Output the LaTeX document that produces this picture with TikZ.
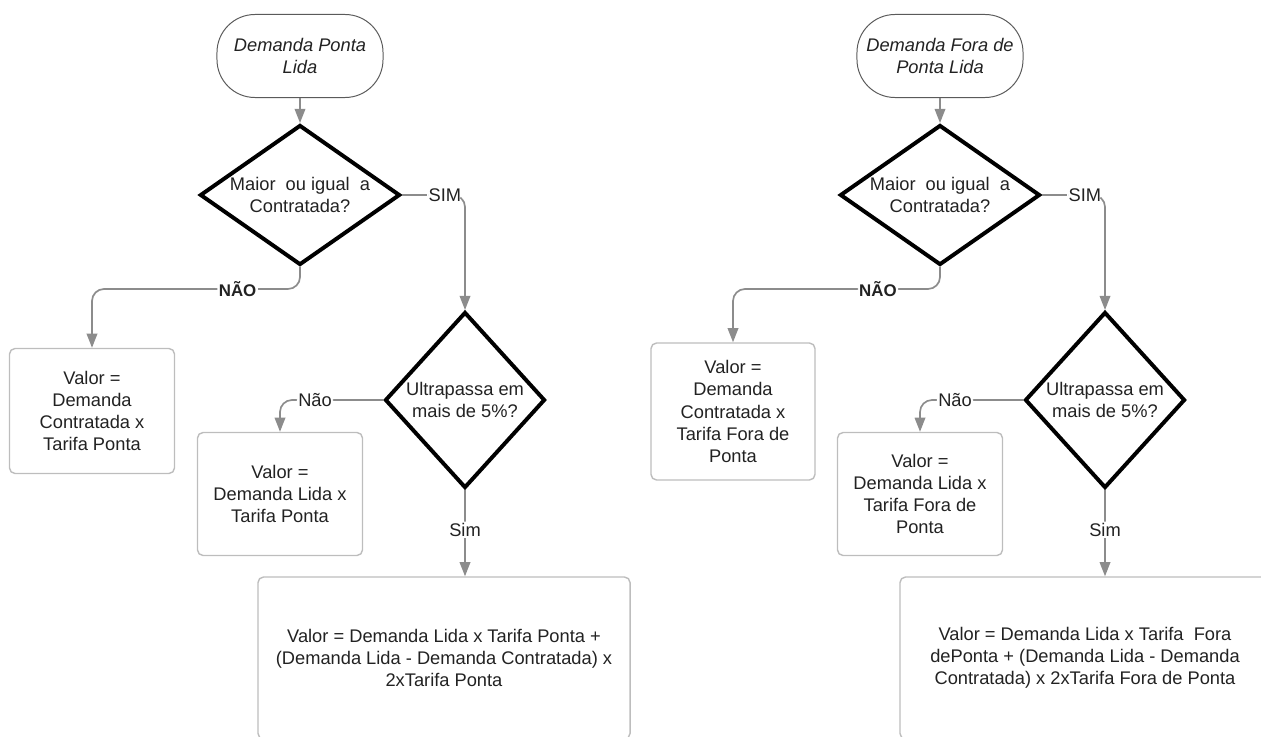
\documentclass[tikz,border=0pt]{standalone}
\usepackage{fontspec}
\setmainfont{Liberation Sans}
\usetikzlibrary{arrows.meta,shapes.geometric,positioning}

\definecolor{linegray}{HTML}{8C8C8C}
\definecolor{boxgray}{HTML}{BDBDBD}
\definecolor{termgray}{HTML}{5A5A5A}
\definecolor{txtgray}{HTML}{222222}

\begin{document}
\begin{tikzpicture}[
  x=0.025cm, y=-0.025cm,
  font=\fontsize{13}{15.8}\selectfont, text=txtgray, >={Triangle[length=10pt,width=7.5pt]},
  terminal/.style={rectangle, rounded corners=0.95cm, draw=termgray, line width=0.7pt, minimum width=4.15cm, minimum height=2.075cm, align=center, font=\fontsize{13}{15.8}\selectfont\itshape},
  decision/.style={diamond, draw=black, line width=2.8pt, inner sep=0pt, align=center},
  valuebox/.style={rectangle, rounded corners=4pt, draw=boxgray, line width=1pt, align=center},
  conn/.style={->, draw=linegray, line width=1.2pt, rounded corners=0.3cm},
  lbl/.style={fill=white, inner sep=1pt},
  lblbold/.style={lbl, font=\fontsize{12}{14}\selectfont\bfseries}
]
\useasboundingbox (0,0) rectangle (1261,736);
\clip (0,0) rectangle (1261,736);

% demanda ponta
\node[terminal] (tp) at (300,56) {Demanda Ponta\\Lida};
\node[decision, minimum width=5cm, minimum height=3.5cm, shape aspect=1.43] (dp1) at (300,195) {Maior~ ou igual~ a\\Contratada?};
\node[decision, minimum width=4cm, minimum height=4.4cm, shape aspect=0.9] (dp2) at (465,400) {Ultrapassa em\\mais de 5\%?};
\node[valuebox, minimum width=4.125cm, minimum height=3.125cm] (bp1) at (92,411) {Valor =\\Demanda\\Contratada x\\Tarifa Ponta};
\node[valuebox, minimum width=4.125cm, minimum height=3.075cm] (bp2) at (280,494) {Valor =\\Demanda Lida x\\Tarifa Ponta};
\node[valuebox, minimum width=9.3cm, minimum height=4.05cm] (bp3) at (444,658) {Valor = Demanda Lida x Tarifa Ponta +\\(Demanda Lida - Demanda Contratada) x\\2xTarifa Ponta};

\draw[conn] (tp) -- (dp1);
\draw[conn] (dp1.east) -| node[lbl, pos=0.34] {SIM} (dp2.north);
\draw[conn] (dp1.south) -- ++(0,22) -| node[lblbold, pos=0.15] {NÃO} (bp1.north);
\draw[conn] (dp2.west) -| node[lbl, pos=0.33] {Não} (bp2.north);
\draw[conn] (dp2.south) -- node[lbl, pos=0.46] {Sim} (dp2.south |- bp3.north);

% demanda fora de ponta
\node[terminal] (tf) at (940,56) {Demanda Fora de\\Ponta Lida};
\node[decision, minimum width=5cm, minimum height=3.5cm, shape aspect=1.43] (df1) at (940,195) {Maior~ ou igual~ a\\Contratada?};
\node[decision, minimum width=4cm, minimum height=4.4cm, shape aspect=0.9] (df2) at (1105,400) {Ultrapassa em\\mais de 5\%?};
\node[valuebox, minimum width=4.1cm, minimum height=3.425cm] (bf1) at (733,411.5) {Valor =\\Demanda\\Contratada x\\Tarifa Fora de\\Ponta};
\node[valuebox, minimum width=4.125cm, minimum height=3.075cm] (bf2) at (920,494) {Valor =\\Demanda Lida x\\Tarifa Fora de\\Ponta};
\node[valuebox, minimum width=9.25cm, minimum height=4.05cm] (bf3) at (1085,658) {Valor = Demanda Lida x Tarifa~ Fora\\dePonta + (Demanda Lida - Demanda\\Contratada) x 2xTarifa Fora de Ponta};

\draw[conn] (tf) -- (df1);
\draw[conn] (df1.east) -| node[lbl, pos=0.34] {SIM} (df2.north);
\draw[conn] (df1.south) -- ++(0,22) -| node[lblbold, pos=0.15] {NÃO} (bf1.north);
\draw[conn] (df2.west) -| node[lbl, pos=0.33] {Não} (bf2.north);
\draw[conn] (df2.south) -- node[lbl, pos=0.46] {Sim} (df2.south |- bf3.north);
\end{tikzpicture}
\end{document}
